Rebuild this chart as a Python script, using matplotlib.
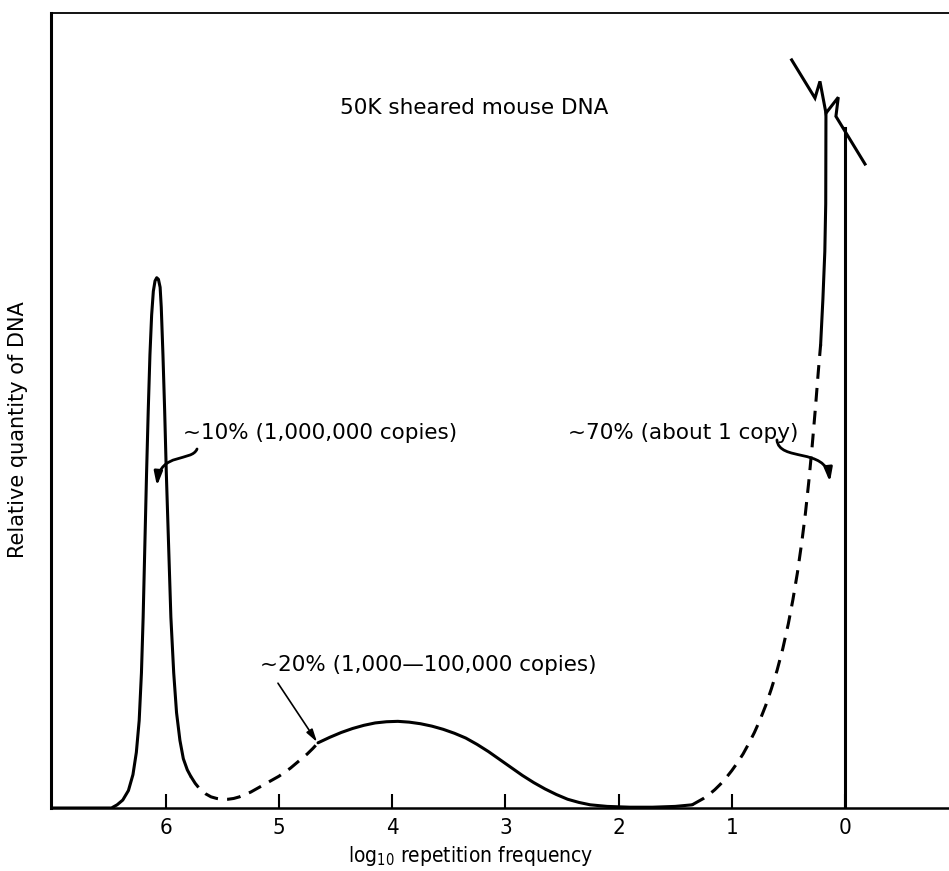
import matplotlib
matplotlib.use('Agg')
import matplotlib.pyplot as plt
from matplotlib.path import Path
from matplotlib.patches import FancyArrowPatch

# Renaturation profile of sheared mouse DNA (log10 repetition frequency, relative quantity)
# satellite peak (solid)
sat_x = [7.0, 6.48, 6.43, 6.38, 6.33, 6.29, 6.26, 6.235, 6.215, 6.20, 6.185, 6.17, 6.155, 6.14,
         6.125, 6.11, 6.095, 6.08, 6.065, 6.05, 6.04, 6.025, 6.01, 5.995, 5.975, 5.955, 5.93,
         5.905, 5.875, 5.845, 5.81, 5.78]
sat_y = [0.0, 0.0, 0.004, 0.010, 0.022, 0.042, 0.07, 0.11, 0.17, 0.24, 0.33, 0.42, 0.50, 0.57,
         0.62, 0.65, 0.663, 0.667, 0.665, 0.655, 0.63, 0.57, 0.50, 0.42, 0.33, 0.24, 0.17,
         0.12, 0.085, 0.062, 0.048, 0.040]

# dip between satellite and middle repetitive fraction (dashed)
dip_x = [5.78, 5.74, 5.70, 5.65, 5.60, 5.55, 5.50, 5.45, 5.40, 5.35, 5.30, 5.25, 5.20, 5.15,
         5.10, 5.05, 5.00, 4.95, 4.90, 4.85, 4.80, 4.75, 4.70, 4.655]
dip_y = [0.040, 0.031, 0.024, 0.018, 0.014, 0.012, 0.011, 0.011, 0.012, 0.014, 0.017, 0.020,
         0.024, 0.028, 0.032, 0.036, 0.040, 0.045, 0.050, 0.056, 0.062, 0.068, 0.075, 0.082]

# moderately repetitive hump (solid)
hump_x = [4.655, 4.55, 4.45, 4.35, 4.25, 4.15, 4.05, 3.95, 3.85, 3.75, 3.65, 3.55, 3.45, 3.35,
          3.25, 3.15, 3.05, 2.95, 2.85, 2.75, 2.65, 2.55, 2.45, 2.35, 2.25, 2.1, 1.9, 1.7, 1.5, 1.35]
hump_y = [0.082, 0.089, 0.095, 0.100, 0.104, 0.107, 0.1085, 0.109, 0.108, 0.106, 0.103, 0.099,
          0.094, 0.088, 0.080, 0.071, 0.061, 0.051, 0.041, 0.032, 0.024, 0.017, 0.011, 0.007,
          0.004, 0.002, 0.001, 0.001, 0.002, 0.004]

# rise of the unique fraction (dashed)
rise_x = [1.35, 1.30, 1.25, 1.20, 1.15, 1.10, 1.05, 1.00, 0.95, 0.90, 0.85, 0.80, 0.75, 0.70,
          0.65, 0.60, 0.55, 0.50, 0.46, 0.42, 0.38, 0.35, 0.32, 0.29, 0.26, 0.235, 0.215]
rise_y = [0.004, 0.008, 0.012, 0.017, 0.023, 0.030, 0.038, 0.047, 0.057, 0.068, 0.081, 0.095,
          0.111, 0.129, 0.150, 0.173, 0.200, 0.232, 0.262, 0.296, 0.336, 0.370, 0.410, 0.455,
          0.505, 0.550, 0.583]

# unique fraction top (solid), broken at the top
uniq_x = [0.215, 0.195, 0.178, 0.170, 0.168]
uniq_y = [0.583, 0.64, 0.70, 0.76, 0.874]
brk_x = [0.471, 0.265, 0.221, 0.168, 0.059, 0.080, -0.177]
brk_y = [0.941, 0.893, 0.914, 0.874, 0.894, 0.870, 0.810]
edge_x = [0.0, 0.0]
edge_y = [0.0, 0.855]

xticks = [6, 5, 4, 3, 2, 1, 0]

fig = plt.figure(figsize=(9.49, 8.71), dpi=100)
ax = fig.add_axes([51/949, 63/871, 898/949, 795/871])

lw = 2.2
ax.plot(sat_x, sat_y, color='black', lw=lw, solid_capstyle='round', solid_joinstyle='round')
ax.plot(dip_x, dip_y, color='black', lw=lw, dashes=(4.5, 3))
ax.plot(hump_x, hump_y, color='black', lw=lw, solid_capstyle='round', solid_joinstyle='round')
ax.plot(rise_x, rise_y, color='black', lw=lw, dashes=(4.5, 3))
ax.plot(uniq_x, uniq_y, color='black', lw=lw)
ax.plot(brk_x, brk_y, color='black', lw=lw, solid_joinstyle='miter')
ax.plot(edge_x, edge_y, color='black', lw=lw)

ax.set_xlim(7.014, -0.919)
ax.set_ylim(0, 1)

ax.spines['right'].set_visible(False)
ax.spines['left'].set_linewidth(2.2)
ax.spines['bottom'].set_linewidth(1.8)
ax.spines['top'].set_linewidth(1.3)

ax.set_xticks(xticks)
ax.set_xticklabels([str(t) for t in xticks], family='DejaVu Sans', stretch='condensed', fontsize=16)
ax.tick_params(axis='x', direction='in', length=10, width=1.5, pad=7)
ax.set_yticks([])

ax.set_xlabel(r'log$_{\mathregular{10}}$ repetition frequency',
              family='DejaVu Sans', stretch='condensed', fontsize=15)
ax.xaxis.set_label_coords((471 - 51) / 898, -0.045)
ax.set_ylabel('Relative quantity of DNA', fontsize=15)
ax.yaxis.set_label_coords(-0.026, (808 - 430) / 795)

fs = 15.5
ax.text(3.277, 0.880, '50K sheared mouse DNA', ha='center', va='center', fontsize=fs)
ax.text(5.848, 0.472, '~10% (1,000,000 copies)', ha='left', va='center', fontsize=fs)
ax.text(0.415, 0.472, '~70% (about 1 copy)', ha='right', va='center', fontsize=fs)
ax.text(5.168, 0.180, '~20% (1,000\u2014100,000 copies)', ha='left', va='center', fontsize=fs)

# curved pointers
codes = [Path.MOVETO, Path.CURVE4, Path.CURVE4, Path.CURVE4]
p10 = Path([(5.724, 0.4516), (5.769, 0.4352), (6.051, 0.4478), (6.078, 0.405)], codes)
p70 = Path([(0.601, 0.463), (0.583, 0.435), (0.168, 0.454), (0.133, 0.410)], codes)
for p in (p10, p70):
    ax.add_patch(FancyArrowPatch(path=p, arrowstyle='-|>,head_length=0.5,head_width=0.15',
                                 mutation_scale=16, lw=2, color='black'))
ax.annotate('', xy=(4.664, 0.083), xytext=(5.009, 0.157),
            arrowprops=dict(arrowstyle='-|>,head_length=0.5,head_width=0.14',
                            mutation_scale=15, lw=1.2, color='black', shrinkA=0, shrinkB=0))

fig.savefig('out.png', dpi=100)
